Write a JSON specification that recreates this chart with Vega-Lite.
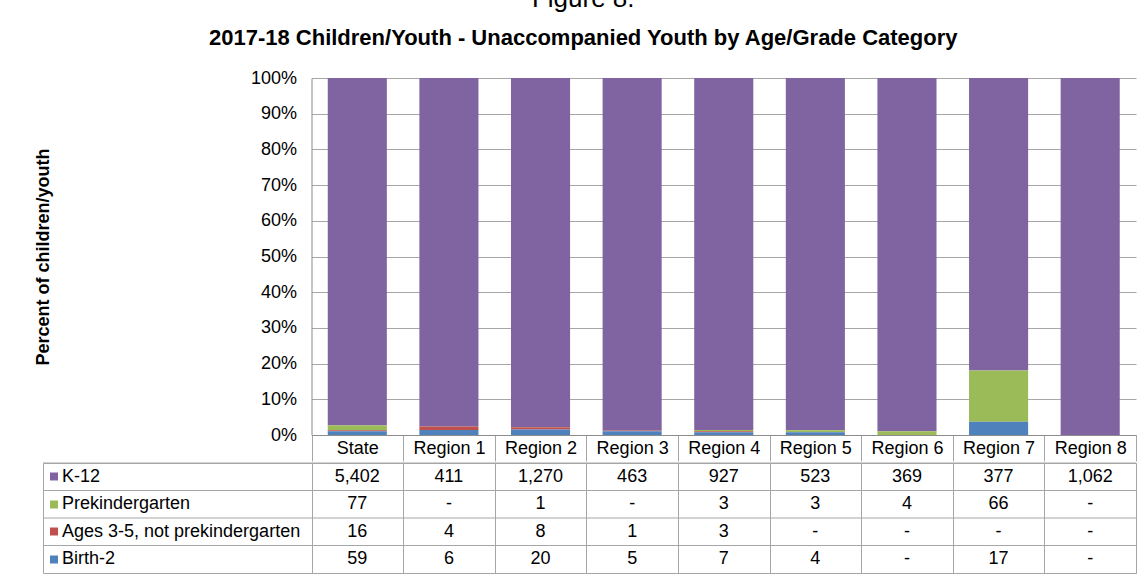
{
  "$schema": "https://vega.github.io/schema/vega-lite/v6.json",
  "padding": {"left": 34, "top": -14, "right": 0, "bottom": 0},
  "background": "white",
  "title": {
    "text": "Figure 8.",
    "subtitle": "2017-18  Children/Youth - Unaccompanied Youth by Age/Grade Category",
    "anchor": "middle",
    "dx": -2.5,
    "font": "Liberation Sans",
    "fontSize": 26,
    "fontWeight": "normal",
    "color": "#000000",
    "subtitleFont": "Liberation Sans",
    "subtitleFontSize": 22,
    "subtitleFontWeight": "bold",
    "subtitleColor": "#000000",
    "subtitlePadding": 16,
    "offset": 20
  },
  "datasets": {
    "main": [
      {"region": "State", "category": "K-12", "rank": 4, "count": 5402},
      {"region": "State", "category": "Prekindergarten", "rank": 3, "count": 77},
      {"region": "State", "category": "Ages 3-5, not prekindergarten", "rank": 2, "count": 16},
      {"region": "State", "category": "Birth-2", "rank": 1, "count": 59},
      {"region": "Region 1", "category": "K-12", "rank": 4, "count": 411},
      {"region": "Region 1", "category": "Prekindergarten", "rank": 3, "count": 0},
      {"region": "Region 1", "category": "Ages 3-5, not prekindergarten", "rank": 2, "count": 4},
      {"region": "Region 1", "category": "Birth-2", "rank": 1, "count": 6},
      {"region": "Region 2", "category": "K-12", "rank": 4, "count": 1270},
      {"region": "Region 2", "category": "Prekindergarten", "rank": 3, "count": 1},
      {"region": "Region 2", "category": "Ages 3-5, not prekindergarten", "rank": 2, "count": 8},
      {"region": "Region 2", "category": "Birth-2", "rank": 1, "count": 20},
      {"region": "Region 3", "category": "K-12", "rank": 4, "count": 463},
      {"region": "Region 3", "category": "Prekindergarten", "rank": 3, "count": 0},
      {"region": "Region 3", "category": "Ages 3-5, not prekindergarten", "rank": 2, "count": 1},
      {"region": "Region 3", "category": "Birth-2", "rank": 1, "count": 5},
      {"region": "Region 4", "category": "K-12", "rank": 4, "count": 927},
      {"region": "Region 4", "category": "Prekindergarten", "rank": 3, "count": 3},
      {"region": "Region 4", "category": "Ages 3-5, not prekindergarten", "rank": 2, "count": 3},
      {"region": "Region 4", "category": "Birth-2", "rank": 1, "count": 7},
      {"region": "Region 5", "category": "K-12", "rank": 4, "count": 523},
      {"region": "Region 5", "category": "Prekindergarten", "rank": 3, "count": 3},
      {"region": "Region 5", "category": "Ages 3-5, not prekindergarten", "rank": 2, "count": 0},
      {"region": "Region 5", "category": "Birth-2", "rank": 1, "count": 4},
      {"region": "Region 6", "category": "K-12", "rank": 4, "count": 369},
      {"region": "Region 6", "category": "Prekindergarten", "rank": 3, "count": 4},
      {"region": "Region 6", "category": "Ages 3-5, not prekindergarten", "rank": 2, "count": 0},
      {"region": "Region 6", "category": "Birth-2", "rank": 1, "count": 0},
      {"region": "Region 7", "category": "K-12", "rank": 4, "count": 377},
      {"region": "Region 7", "category": "Prekindergarten", "rank": 3, "count": 66},
      {"region": "Region 7", "category": "Ages 3-5, not prekindergarten", "rank": 2, "count": 0},
      {"region": "Region 7", "category": "Birth-2", "rank": 1, "count": 17},
      {"region": "Region 8", "category": "K-12", "rank": 4, "count": 1062},
      {"region": "Region 8", "category": "Prekindergarten", "rank": 3, "count": 0},
      {"region": "Region 8", "category": "Ages 3-5, not prekindergarten", "rank": 2, "count": 0},
      {"region": "Region 8", "category": "Birth-2", "rank": 1, "count": 0}
    ]
  },
  "spacing": 0,
  "vconcat": [
    {
      "width": 1093,
      "height": 357,
      "view": {"stroke": null},
      "data": {"name": "main"},
      "mark": {"type": "bar", "width": {"band": 0.645}},
      "encoding": {
        "x": {
          "field": "region",
          "type": "nominal",
          "sort": ["State", "Region 1", "Region 2", "Region 3", "Region 4", "Region 5", "Region 6", "Region 7", "Region 8"],
          "scale": {"range": [268.5, 1093], "paddingInner": 0, "paddingOuter": 0},
          "axis": {
            "title": null,
            "labelAngle": 0,
            "labelFont": "Liberation Sans",
            "labelFontSize": 18,
            "labelColor": "#000000",
            "labelBaseline": "middle",
            "labelPadding": -13,
            "tickBand": "extent",
            "tickSize": 26,
            "tickColor": "#a6a6a6",
            "domainColor": "#8c8c8c",
            "grid": false
          }
        },
        "y": {
          "field": "count",
          "type": "quantitative",
          "aggregate": "sum",
          "stack": "normalize",
          "axis": {
            "title": "Percent of children/youth",
            "titleFont": "Liberation Sans",
            "titleFontSize": 18,
            "titleFontWeight": "bold",
            "titleColor": "#000000",
            "titlePadding": 198,
            "minExtent": 61,
            "offset": -268.5,
            "format": ".0%",
            "values": [0, 0.1, 0.2, 0.3, 0.4, 0.5, 0.6, 0.7, 0.8, 0.9, 1],
            "labelFont": "Liberation Sans",
            "labelFontSize": 18,
            "labelColor": "#000000",
            "labelPadding": 15,
            "ticks": false,
            "grid": true,
            "gridColor": "#a6a6a6",
            "domainColor": "#8c8c8c"
          }
        },
        "color": {
          "field": "category",
          "type": "nominal",
          "scale": {
            "domain": ["K-12", "Prekindergarten", "Ages 3-5, not prekindergarten", "Birth-2"],
            "range": ["#8064a2", "#9bbb59", "#c0504d", "#4f81bd"]
          },
          "legend": null
        },
        "order": {"field": "rank", "type": "quantitative", "sort": "ascending"}
      }
    },
    {
      "width": 1093,
      "height": 110,
      "view": {"stroke": "#a6a6a6"},
      "data": {"name": "main"},
      "encoding": {
        "y": {
          "field": "category",
          "type": "nominal",
          "sort": ["K-12", "Prekindergarten", "Ages 3-5, not prekindergarten", "Birth-2"],
          "scale": {"paddingInner": 0, "paddingOuter": 0},
          "axis": {
            "title": null,
            "orient": "left",
            "offset": -14.5,
            "domain": false,
            "grid": false,
            "ticks": true,
            "tickSize": 8,
            "tickWidth": 8,
            "tickColor": {"expr": "datum.value === 'K-12' ? '#8064a2' : datum.value === 'Prekindergarten' ? '#9bbb59' : datum.value === 'Ages 3-5, not prekindergarten' ? '#c0504d' : '#4f81bd'"},
            "labelAlign": "left",
            "labelBaseline": "middle",
            "labelPadding": -12,
            "labelFont": "Liberation Sans",
            "labelFontSize": 18,
            "labelColor": "#000000",
            "labelLimit": 400
          }
        }
      },
      "layer": [
        {
          "mark": {"type": "text", "font": "Liberation Sans", "fontSize": 18, "color": "#000000"},
          "encoding": {
            "x": {
              "field": "region",
              "type": "nominal",
              "sort": ["State", "Region 1", "Region 2", "Region 3", "Region 4", "Region 5", "Region 6", "Region 7", "Region 8"],
              "scale": {"range": [268.5, 1093], "paddingInner": 0, "paddingOuter": 0},
              "axis": {
                "title": null,
                "orient": "top",
                "labels": false,
                "ticks": false,
                "domain": false,
                "grid": true,
                "tickBand": "extent",
                "gridColor": "#a6a6a6"
              }
            },
            "text": {
              "condition": {"test": "datum.count === 0", "value": "-"},
              "field": "count",
              "type": "quantitative",
              "format": ","
            }
          }
        },
        {
          "transform": [{"filter": "datum.region === 'State'"}],
          "mark": {"type": "rule", "color": "#a6a6a6"},
          "encoding": {
            "y": {
              "field": "category",
              "type": "nominal",
              "sort": ["K-12", "Prekindergarten", "Ages 3-5, not prekindergarten", "Birth-2"],
              "bandPosition": 0
            }
          }
        }
      ]
    }
  ],
  "config": {
    "font": "Liberation Sans"
  }
}
